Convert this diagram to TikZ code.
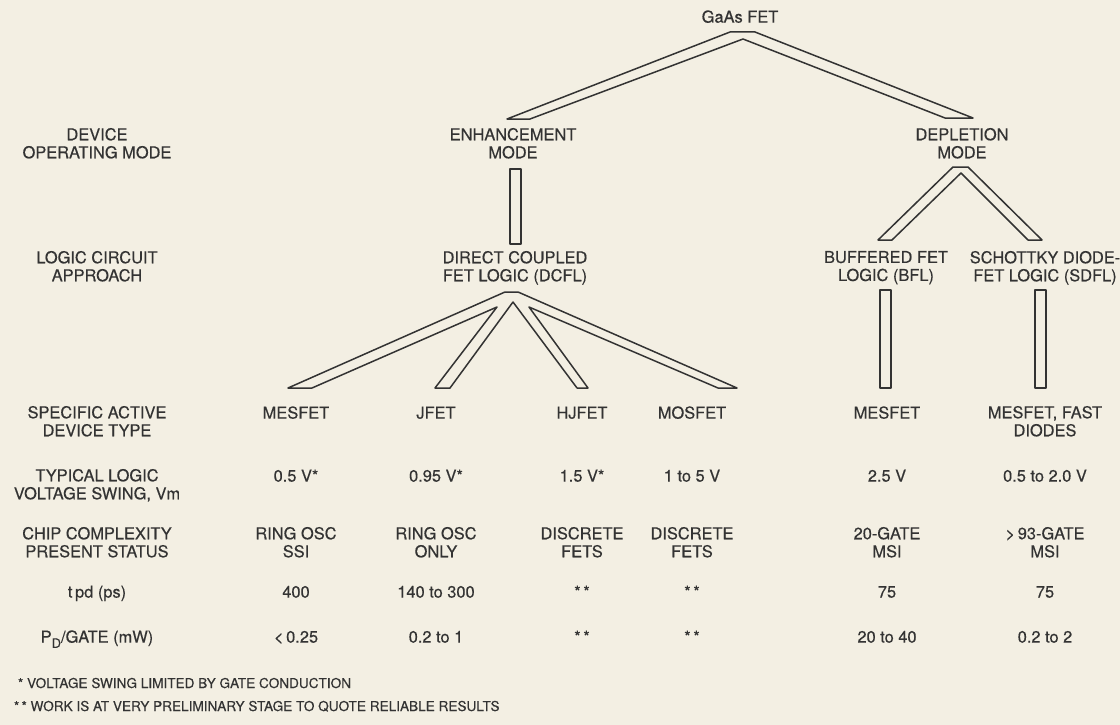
\documentclass[tikz,border=0pt]{standalone}
\usepackage{fontspec}
\setmainfont{TeX Gyre Heros}[FakeBold=0.35]
\definecolor{paper}{HTML}{F3EFE3}
\definecolor{ink}{HTML}{333333}
\begin{document}
\begin{tikzpicture}[x=1pt,y=-1pt,
  every node/.style={inner sep=0pt, outer sep=0pt, text=ink},
  lbl/.style={anchor=north, align=center, font=\fontsize{16.4}{18}\selectfont,
              execute at begin node=\strut},
  note/.style={anchor=base west, font=\fontsize{13.6}{15}\selectfont},
  band/.style={draw=ink, line width=1.5pt, line join=round, fill=paper}]
\fill[paper] (0,0) rectangle (1120,725);
\useasboundingbox (0,0) rectangle (1120,725);

% column centres: 97 (row titles), 296, 436, 582, 692, 887, 1045

% --- tree levels ---------------------------------------------------
\node[lbl] (gaas) at (740,10)  {GaAs FET};
\node[lbl] (mode) at (97,128)  {DEVICE\\OPERATING MODE};
\node[lbl] (enh)  at (513,128) {ENHANCEMENT\\MODE};
\node[lbl] (dep)  at (962,128) {DEPLETION\\MODE};

\node[lbl] (logic) at (97,251)   {LOGIC CIRCUIT\\APPROACH};
\node[lbl] (dcfl)  at (515,251)  {DIRECT COUPLED\\FET LOGIC (DCFL)};
\node[lbl] (bfl)   at (886,251)  {BUFFERED FET\\LOGIC (BFL)};
\node[lbl] (sdfl)  at (1045,251) {SCHOTTKY DIODE-\\FET LOGIC (SDFL)};

% --- hollow branch bands -------------------------------------------
\draw[band] (507,119) -- (730,32) -- (755,32) -- (973,118) -- (945,118)
            -- (743,39) -- (530,119) -- cycle;
\draw[band] (510,169) rectangle (521,244);
\draw[band] (878,240) -- (953,167) -- (968,167) -- (1042,240) -- (1028,240)
            -- (961,173) -- (892,240) -- cycle;
\draw[band] (288,388) -- (505,292) -- (518,292) -- (737,388) -- (718,388)
            -- (529,307) -- (588,388) -- (577,388) -- (513,302) -- (450,388)
            -- (435,388) -- (497,307) -- (312,388) -- cycle;
\draw[band] (880,290) rectangle (891,388);
\draw[band] (1035,290) rectangle (1046,388);

% --- device type row -----------------------------------------------
\node[lbl] (devt) at (97,406)   {SPECIFIC ACTIVE\\DEVICE TYPE};
\node[lbl] (d1)   at (296,406)  {MESFET};
\node[lbl] (d2)   at (436,406)  {JFET};
\node[lbl] (d3)   at (582,406)  {HJFET};
\node[lbl] (d4)   at (692,406)  {MOSFET};
\node[lbl] (d5)   at (887,406)  {MESFET};
\node[lbl] (d6)   at (1045,406) {MESFET, FAST\\DIODES};

% --- voltage swing row ---------------------------------------------
\node[lbl] (vsw) at (97,469)   {TYPICAL LOGIC\\VOLTAGE SWING, Vm};
\node[lbl] (v1)  at (296,469)  {0.5 V*};
\node[lbl] (v2)  at (436,469)  {0.95 V*};
\node[lbl] (v3)  at (582,469)  {1.5 V*};
\node[lbl] (v4)  at (692,469)  {1 to 5 V};
\node[lbl] (v5)  at (887,469)  {2.5 V};
\node[lbl] (v6)  at (1045,469) {0.5 to 2.0 V};

% --- chip complexity row -------------------------------------------
\node[lbl] (cc) at (97,527)   {CHIP COMPLEXITY\\PRESENT STATUS};
\node[lbl] (c1) at (296,527)  {RING OSC\\SSI};
\node[lbl] (c2) at (436,527)  {RING OSC\\ONLY};
\node[lbl] (c3) at (582,527)  {DISCRETE\\FETS};
\node[lbl] (c4) at (692,527)  {DISCRETE\\FETS};
\node[lbl] (c5) at (887,527)  {20-GATE\\MSI};
\node[lbl] (c6) at (1045,527) {>\,93-GATE\\MSI};

% --- propagation delay row -----------------------------------------
\node[lbl] (tpd) at (97,585)  {t\,pd (ps)};
\node[lbl] (t1)  at (296,585) {400};
\node[lbl] (t2)  at (436,585) {140 to 300};
\node[lbl] (t3)  at (582,585) {*\,*};
\node[lbl] (t4)  at (692,585) {*\,*};
\node[lbl] (t5)  at (887,585) {75};
\node[lbl] (t6)  at (1045,585){75};

% --- power per gate row --------------------------------------------
\node[lbl] (pd) at (97,630)  {P\raisebox{-0.32em}{\fontsize{13}{13}\selectfont D}/GATE (mW)};
\node[lbl] (p1) at (296,630) {<\,0.25};
\node[lbl] (p2) at (436,630) {0.2 to 1};
\node[lbl] (p3) at (582,630) {*\,*};
\node[lbl] (p4) at (692,630) {*\,*};
\node[lbl] (p5) at (887,630) {20 to 40};
\node[lbl] (p6) at (1045,630){0.2 to 2};

% --- footnotes -----------------------------------------------------
\node[note] (fn1) at (18,688) {*\ VOLTAGE SWING LIMITED BY GATE CONDUCTION};
\node[note] (fn2) at (14,711) {*\,*\ WORK IS AT VERY PRELIMINARY STAGE TO QUOTE RELIABLE RESULTS};
\end{tikzpicture}
\end{document}
